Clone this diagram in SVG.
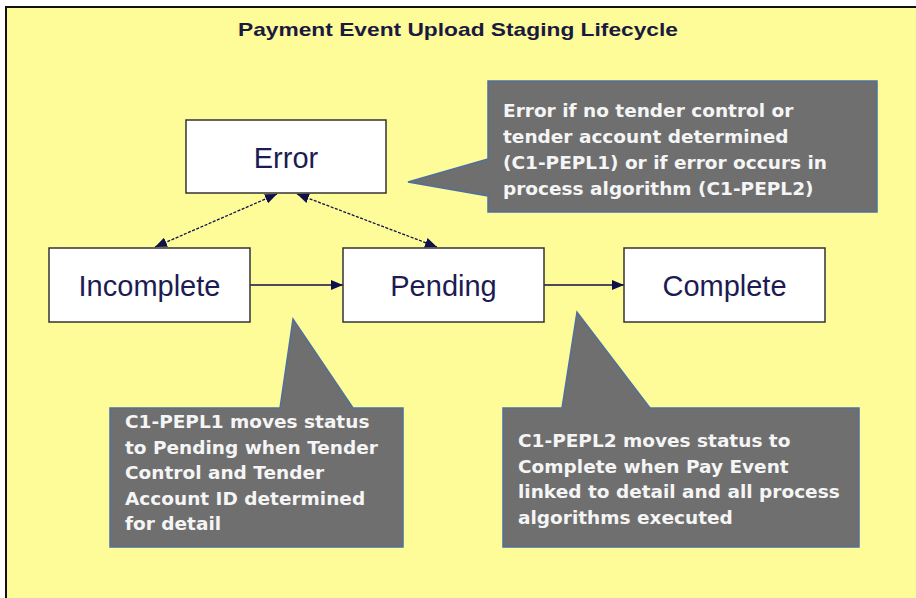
<svg xmlns="http://www.w3.org/2000/svg" width="916" height="598" viewBox="0 0 916 598">
  <style>
    .node rect { fill: #ffffff; stroke: #333333; stroke-width: 1.5; }
    .node text { font-family: "Liberation Sans", Arial, sans-serif; font-size: 29px; fill: #1c1c52; text-anchor: middle; }
    .callout path { fill: #6f6f6f; stroke: #4f6f9f; stroke-width: 1.5; }
    .callout text { font-family: "DejaVu Sans", Verdana, sans-serif; font-weight: bold; font-size: 18.5px; fill: #f5f5f5; }
    .conn line { stroke: #10104a; stroke-width: 1.3; }
    .dash { stroke-dasharray: 3 1.5; }
    .title { font-family: "Liberation Sans", Arial, sans-serif; font-weight: bold; font-size: 19px; fill: #1a1a40; text-anchor: middle; }
  </style>
  <defs>
    <marker id="arr" viewBox="0 0 12 10" refX="12" refY="5" markerWidth="12" markerHeight="10" markerUnits="userSpaceOnUse" orient="auto-start-reverse">
      <path d="M0,0 L12,5 L0,10 Z" fill="#10104a"/>
    </marker>
  </defs>
  <rect x="0" y="0" width="916" height="598" fill="#ffffff"/>
  <rect x="6" y="7" width="920" height="600" fill="#fefc98" stroke="#111111" stroke-width="2"/>
  <text class="title" x="458" y="36" textLength="440" lengthAdjust="spacingAndGlyphs">Payment Event Upload Staging Lifecycle</text>

  <g id="connectors" class="conn">
    <line class="dash" x1="155" y1="247" x2="277" y2="194" marker-start="url(#arr)" marker-end="url(#arr)"/>
    <line class="dash" x1="297" y1="194" x2="437" y2="247" marker-start="url(#arr)" marker-end="url(#arr)"/>
    <line x1="250" y1="285" x2="343" y2="285" marker-end="url(#arr)"/>
    <line x1="544" y1="285" x2="624" y2="285" marker-end="url(#arr)"/>
  </g>

  <g id="error" class="node">
    <rect x="186" y="120" width="200" height="73"/>
    <text x="286" y="168">Error</text>
  </g>
  <g id="incomplete" class="node">
    <rect x="49" y="248" width="201" height="74"/>
    <text x="149.5" y="296">Incomplete</text>
  </g>
  <g id="pending" class="node">
    <rect x="343" y="248" width="201" height="74"/>
    <text x="443.5" y="296">Pending</text>
  </g>
  <g id="complete" class="node">
    <rect x="624" y="248" width="201" height="74"/>
    <text x="724.5" y="296">Complete</text>
  </g>

  <g id="note-error" class="callout">
    <path d="M488,81 L877,81 L877,212 L488,212 L488,196 L408,182 L488,159 Z"/>
    <text x="503" y="117">Error if no tender control or</text>
    <text x="503" y="143">tender account determined</text>
    <text x="503" y="169">(C1-PEPL1) or if error occurs in</text>
    <text x="503" y="195">process algorithm (C1-PEPL2)</text>
  </g>
  <g id="note-pepl1" class="callout">
    <path d="M110,408 L280,408 L293,319 L353,408 L403,408 L403,547 L110,547 Z"/>
    <text x="125" y="428">C1-PEPL1 moves status</text>
    <text x="125" y="453.5">to Pending when Tender</text>
    <text x="125" y="479">Control and Tender</text>
    <text x="125" y="504.5">Account ID determined</text>
    <text x="125" y="530">for detail</text>
  </g>
  <g id="note-pepl2" class="callout">
    <path d="M503,408 L562,408 L577,312 L650,408 L859,408 L859,547 L503,547 Z"/>
    <text x="518" y="447">C1-PEPL2 moves status to</text>
    <text x="518" y="472.5">Complete when Pay Event</text>
    <text x="518" y="498">linked to detail and all process</text>
    <text x="518" y="523.5">algorithms executed</text>
  </g>
</svg>
